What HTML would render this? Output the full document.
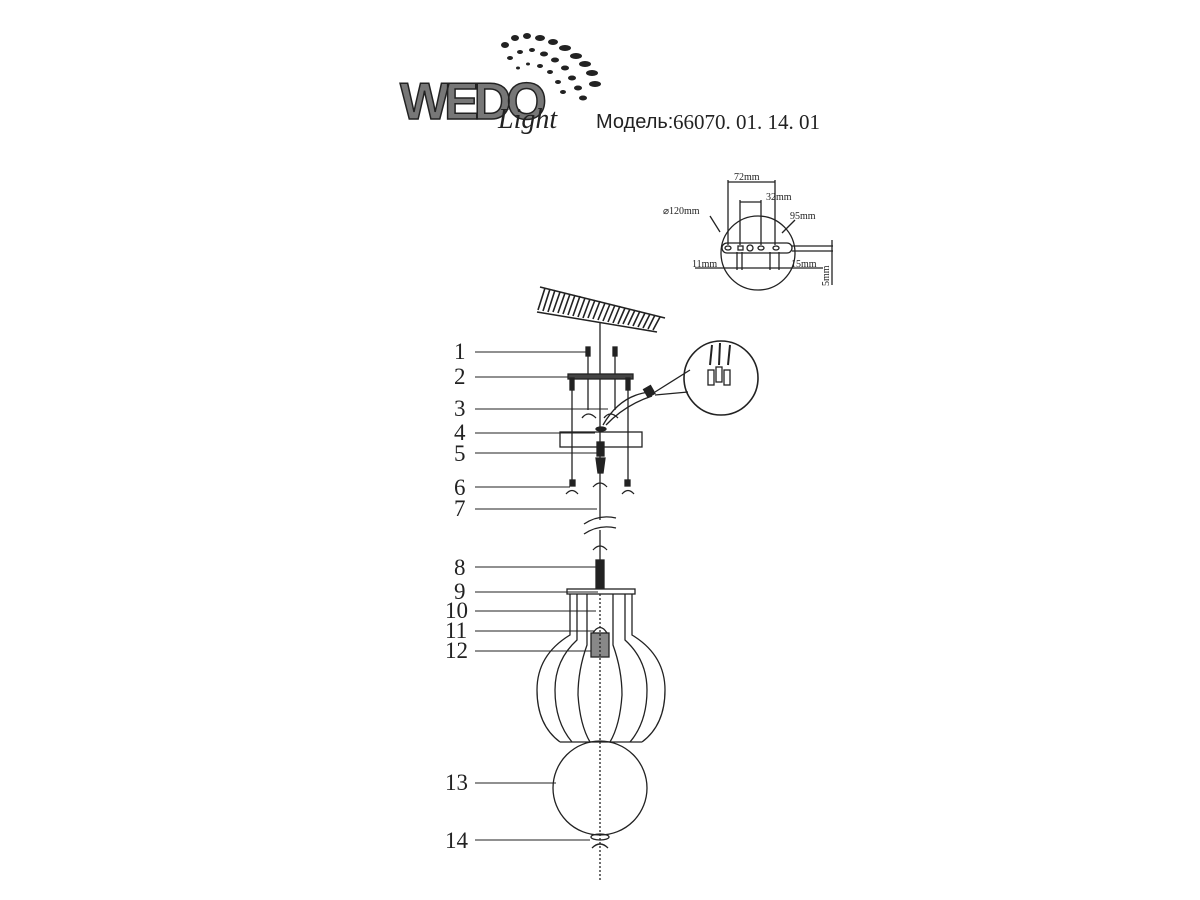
<!DOCTYPE html>
<html><head><meta charset="utf-8"><style>
html,body{margin:0;padding:0;background:#fff;width:1200px;height:900px;overflow:hidden}
svg{display:block}
.n{font-family:"Liberation Serif",serif;font-size:23px;fill:#222}
.s{font-family:"Liberation Serif",serif;font-size:10px;fill:#222}
</style></head><body>
<svg width="1200" height="900" viewBox="0 0 1200 900" xmlns="http://www.w3.org/2000/svg" stroke="#222" fill="none" stroke-width="1.3">
<!-- logo dots -->
<g fill="#222" stroke="none">
<ellipse cx="505" cy="45" rx="4" ry="3"/><ellipse cx="515" cy="38" rx="4" ry="3"/><ellipse cx="527" cy="36" rx="4" ry="3"/><ellipse cx="540" cy="38" rx="5" ry="3"/><ellipse cx="553" cy="42" rx="5" ry="3"/><ellipse cx="565" cy="48" rx="6" ry="3"/><ellipse cx="576" cy="56" rx="6" ry="3"/><ellipse cx="585" cy="64" rx="6" ry="3"/><ellipse cx="592" cy="73" rx="6" ry="3"/>
<ellipse cx="510" cy="58" rx="3" ry="2"/><ellipse cx="520" cy="52" rx="3" ry="2"/><ellipse cx="532" cy="50" rx="3" ry="2"/><ellipse cx="544" cy="54" rx="4" ry="2.5"/><ellipse cx="555" cy="60" rx="4" ry="2.5"/><ellipse cx="565" cy="68" rx="4" ry="2.5"/><ellipse cx="572" cy="78" rx="4" ry="2.5"/><ellipse cx="578" cy="88" rx="4" ry="2.5"/>
<ellipse cx="518" cy="68" rx="2" ry="1.5"/><ellipse cx="528" cy="64" rx="2" ry="1.5"/><ellipse cx="540" cy="66" rx="3" ry="2"/><ellipse cx="550" cy="72" rx="3" ry="2"/><ellipse cx="558" cy="82" rx="3" ry="2"/><ellipse cx="563" cy="92" rx="3" ry="2"/><ellipse cx="595" cy="84" rx="6" ry="3"/><ellipse cx="583" cy="98" rx="4" ry="2.5"/>
</g>
<text x="400" y="119" font-family="Liberation Sans,sans-serif" font-weight="bold" font-size="52" fill="#777" stroke="#222" stroke-width="1.5" letter-spacing="-5">WEDO</text>
<text x="498" y="128" font-family="Liberation Serif,serif" font-style="italic" font-size="28" fill="#222" stroke="none">Light</text>
<text x="596" y="128" font-family="Liberation Sans,sans-serif" font-size="20" fill="#222" stroke="none">Модель:</text>
<text x="673" y="129" font-family="Liberation Serif,serif" font-size="21" fill="#222" stroke="none">66070. 01. 14. 01</text>
<!-- top-right bracket diagram -->
<circle cx="758" cy="253" r="37"/>
<rect x="722" y="243" width="70" height="10" rx="5"/>
<line x1="792" y1="246" x2="833" y2="246"/><line x1="792" y1="251" x2="833" y2="251"/>
<ellipse cx="728" cy="248" rx="3" ry="2"/><rect x="738" y="246" width="5" height="4"/><circle cx="750" cy="248" r="3"/><ellipse cx="761" cy="248" rx="3" ry="2"/><ellipse cx="776" cy="248" rx="3" ry="2"/>
<line x1="728" y1="180" x2="728" y2="245"/><line x1="775" y1="180" x2="775" y2="245"/><line x1="728" y1="182" x2="775" y2="182"/>
<line x1="740" y1="200" x2="740" y2="245"/><line x1="761" y1="200" x2="761" y2="245"/><line x1="740" y1="202" x2="761" y2="202"/>
<line x1="737" y1="252" x2="737" y2="270"/><line x1="742" y1="252" x2="742" y2="270"/><line x1="770" y1="252" x2="770" y2="270"/><line x1="779" y1="252" x2="779" y2="270"/>
<line x1="695" y1="268" x2="823" y2="268"/><line x1="832" y1="240" x2="832" y2="285"/>
<line x1="710" y1="216" x2="720" y2="232"/><line x1="795" y1="220" x2="782" y2="233"/>
<text class="s" x="734" y="180" stroke="none">72mm</text><text class="s" x="766" y="200" stroke="none">32mm</text>
<text class="s" x="663" y="214" stroke="none">⌀120mm</text><text class="s" x="790" y="219" stroke="none">95mm</text>
<text class="s" x="692" y="267" stroke="none">11mm</text><text class="s" x="791" y="267" stroke="none">15mm</text>
<text class="s" x="0" y="0" stroke="none" transform="translate(829,286) rotate(-90)">5mm</text>
<!-- ceiling -->
<g stroke-width="1.6">
<path d="M540 287 L665 318"/><path d="M537 312 L657 332"/>
<path d="M538 310 L545 288 M543 311 L550 289 M548 312 L555 290 M553 312 L560 292 M558 313 L565 293 M563 314 L570 294 M568 315 L575 295 M573 316 L580 296 M578 317 L585 298 M583 318 L590 299 M588 318 L595 300 M593 319 L600 301 M598 320 L605 303 M603 321 L610 304 M608 322 L615 305 M613 323 L620 306 M618 324 L625 308 M623 324 L630 309 M628 325 L635 310 M633 326 L640 311 M638 327 L645 313 M643 328 L650 314 M648 329 L655 315 M653 330 L660 317"/>
</g>
<line x1="600" y1="323" x2="600" y2="520"/>
<!-- leader lines -->
<g stroke-width="1">
<line x1="475" y1="352" x2="588" y2="352"/><line x1="475" y1="377" x2="570" y2="377"/><line x1="475" y1="409" x2="608" y2="409"/><line x1="475" y1="433" x2="595" y2="433"/><line x1="475" y1="453" x2="598" y2="453"/><line x1="475" y1="487" x2="570" y2="487"/><line x1="475" y1="509" x2="597" y2="509"/><line x1="475" y1="567" x2="598" y2="567"/><line x1="475" y1="592" x2="598" y2="592"/><line x1="475" y1="611" x2="596" y2="611"/><line x1="475" y1="631" x2="594" y2="631"/><line x1="475" y1="651" x2="593" y2="651"/><line x1="475" y1="783" x2="556" y2="783"/><line x1="475" y1="840" x2="590" y2="840"/>
</g>
<g class="n" stroke="none">
<text x="454" y="359">1</text><text x="454" y="384">2</text><text x="454" y="416">3</text><text x="454" y="440">4</text><text x="454" y="461">5</text><text x="454" y="495">6</text><text x="454" y="516">7</text><text x="454" y="575">8</text><text x="454" y="599">9</text><text x="445" y="618">10</text><text x="445" y="638">11</text><text x="445" y="658">12</text><text x="445" y="790">13</text><text x="445" y="848">14</text>
</g>
<!-- parts -->
<rect x="586" y="347" width="4" height="9" fill="#222"/><rect x="613" y="347" width="4" height="9" fill="#222"/>
<line x1="588" y1="356" x2="588" y2="410"/><line x1="615" y1="356" x2="615" y2="410"/>
<rect x="568" y="374" width="65" height="5" fill="#444"/>
<rect x="570" y="378" width="4" height="12" fill="#222"/><rect x="626" y="378" width="4" height="12" fill="#222"/>
<line x1="572" y1="390" x2="572" y2="482"/><line x1="628" y1="390" x2="628" y2="482"/>
<path d="M582 418 q6 -8 14 0 M604 418 q6 -8 14 0"/>
<ellipse cx="601" cy="429" rx="5" ry="2" fill="#222"/>
<path d="M603 425 Q620 395 650 392 M606 425 Q625 405 652 396"/>
<rect x="645" y="387" width="8" height="9" fill="#222" transform="rotate(-30 649 391)"/>
<circle cx="721" cy="378" r="37" stroke-width="1.6"/><path d="M655 392 L690 370 M655 395 L688 392"/>
<rect x="708" y="370" width="6" height="15" fill="none"/><rect x="716" y="367" width="6" height="15"/><rect x="724" y="370" width="6" height="15"/>
<line x1="712" y1="345" x2="710" y2="365" stroke-width="2"/><line x1="720" y1="343" x2="719" y2="365" stroke-width="2"/><line x1="730" y1="345" x2="728" y2="365" stroke-width="2"/>
<rect x="560" y="432" width="82" height="15"/>
<rect x="597" y="442" width="7" height="14" fill="#222"/><path d="M596 458 L605 458 L603 473 L598 473 Z" fill="#222"/>
<rect x="570" y="480" width="5" height="6" fill="#222"/><rect x="625" y="480" width="5" height="6" fill="#222"/>
<path d="M566 494 q6 -7 12 0 M622 494 q6 -7 12 0 M593 487 q7 -8 14 0"/>
<path d="M584 524 q15 -10 32 -6 M584 534 q15 -10 32 -6"/>
<line x1="600" y1="530" x2="600" y2="560"/>
<path d="M593 550 q7 -8 14 0"/>
<rect x="596" y="560" width="8" height="28" fill="#222"/>
<!-- shade -->
<rect x="567" y="589" width="68" height="5"/>
<path d="M570 594 L570 635 Q537 655 537 690 Q537 725 560 742 M632 594 L632 635 Q665 655 665 690 Q665 725 642 742 M560 742 L642 742"/>
<path d="M577 594 L577 640 Q555 660 555 690 Q555 722 572 742 M625 594 L625 640 Q647 660 647 690 Q647 722 630 742"/>
<path d="M587 594 L587 645 Q578 670 578 695 Q580 725 590 742 M613 594 L613 645 Q622 670 622 695 Q620 725 610 742"/>
<rect x="591" y="633" width="18" height="24" fill="#888"/>
<path d="M593 633 Q600 622 607 633"/>
<line x1="600" y1="594" x2="600" y2="880" stroke-dasharray="2 2"/>
<circle cx="600" cy="788" r="47"/>
<ellipse cx="600" cy="837" rx="9" ry="3"/><path d="M592 848 q8 -8 16 0"/>
</svg>
</body></html>
